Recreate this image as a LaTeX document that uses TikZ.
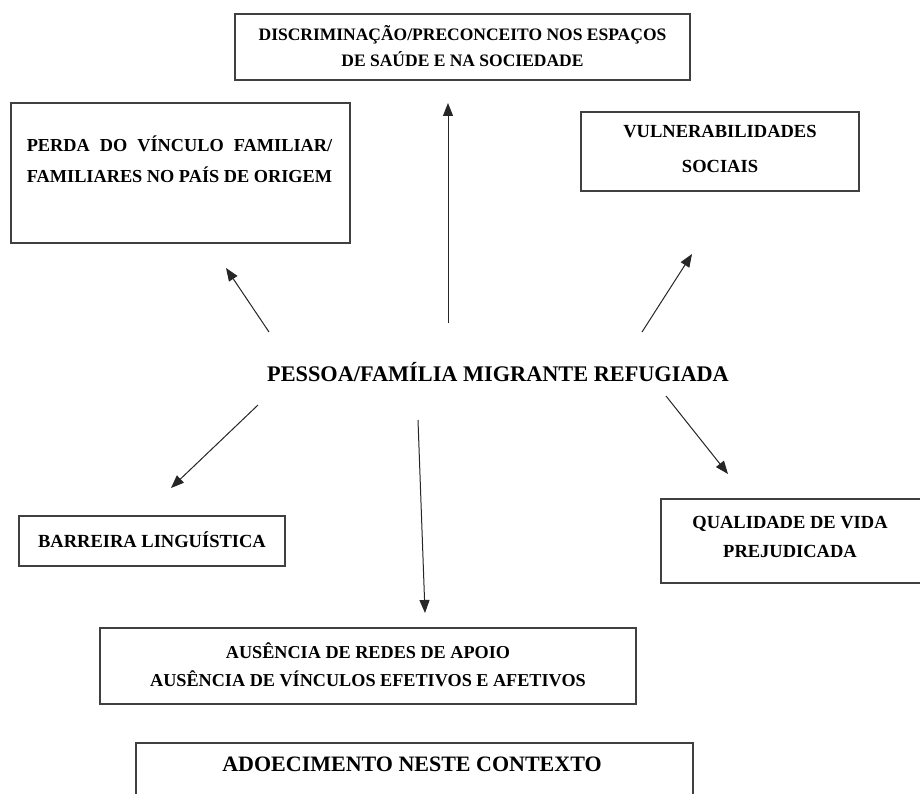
\documentclass[tikz,border=0pt]{standalone}
\usepackage{fontspec}
\setmainfont{Liberation Serif}
\usetikzlibrary{arrows.meta}
\newsavebox\lineBbox
\begin{document}
\begin{tikzpicture}[x=1pt,y=-1pt,
  boxst/.style={draw=black!75,line width=1.2pt,inner sep=0pt,fill=none},
  txt/.style={inner sep=0pt,align=center,text=black},
  arr/.style={draw=black!85,line width=1pt,-{Triangle[length=13pt,width=10pt]}}]
\clip (0,0) rectangle (920,794);
\fill[white] (0,0) rectangle (920,794);
% boxes
\node[boxst,minimum width=455pt,minimum height=66pt] (topbox) at (462.5,47) {};
\node[boxst,minimum width=339pt,minimum height=140pt] (leftbox) at (180.5,173) {};
\node[boxst,minimum width=278pt,minimum height=79pt] (rightbox) at (720,151.5) {};
\node[boxst,line width=1.9pt,minimum width=266pt,minimum height=50pt] (blbox) at (152,541) {};
\node[boxst,minimum width=264pt,minimum height=84pt] (brbox) at (793,541) {};
\node[boxst,minimum width=536pt,minimum height=76pt] (midbox) at (368,666) {};
\node[boxst,minimum width=557pt,minimum height=100pt] (lastbox) at (414.5,793) {};
% texts
\node[txt,font=\fontsize{17.5}{26}\selectfont\bfseries] (toptext) at (462.5,46)
  {DISCRIMINAÇÃO/PRECONCEITO NOS ESPAÇOS\\DE SAÚDE E NA SOCIEDADE};
\node[txt,font=\fontsize{18.3}{31}\selectfont\bfseries] (lefttext) at (179.5,159.5)
  {\global\setbox\lineBbox=\hbox{FAMILIARES NO PAÍS DE ORIGEM}\makebox[\wd\lineBbox][s]{PERDA DO VÍNCULO FAMILIAR/}\\\usebox\lineBbox};
\node[txt,font=\fontsize{18.5}{35}\selectfont\bfseries] (righttext) at (720,148.5)
  {VULNERABILIDADES\\SOCIAIS};
\node[txt,font=\fontsize{22.3}{26}\selectfont\bfseries] (center) at (498,372)
  {PESSOA/FAMÍLIA MIGRANTE REFUGIADA};
\node[txt,font=\fontsize{18.5}{26}\selectfont\bfseries] (bltext) at (152,540)
  {BARREIRA LINGUÍSTICA};
\node[txt,font=\fontsize{18.5}{29}\selectfont\bfseries] (brtext) at (790,536.5)
  {QUALIDADE DE VIDA\\PREJUDICADA};
\node[txt,font=\fontsize{18.2}{28}\selectfont\bfseries] (midtext) at (368,665)
  {AUSÊNCIA DE REDES DE APOIO\\AUSÊNCIA DE VÍNCULOS EFETIVOS E AFETIVOS};
\node[txt,font=\fontsize{22}{26}\selectfont\bfseries] (lasttext) at (412,764)
  {ADOECIMENTO NESTE CONTEXTO};
% arrow end points
\coordinate (a1s) at (269,332); \coordinate (a1e) at (226,268);
\coordinate (a2s) at (448,323); \coordinate (a2e) at (448,103);
\coordinate (a3s) at (642,332); \coordinate (a3e) at (692,254);
\coordinate (a4s) at (258,405); \coordinate (a4e) at (171,488);
\coordinate (a5s) at (418,420); \coordinate (a5e) at (425,613);
\coordinate (a6s) at (666,396); \coordinate (a6e) at (728,474);
\draw[arr] (a1s) -- (a1e);
\draw[arr] (a2s) -- (a2e);
\draw[arr] (a3s) -- (a3e);
\draw[arr] (a4s) -- (a4e);
\draw[arr] (a5s) -- (a5e);
\draw[arr] (a6s) -- (a6e);
\end{tikzpicture}
\end{document}
